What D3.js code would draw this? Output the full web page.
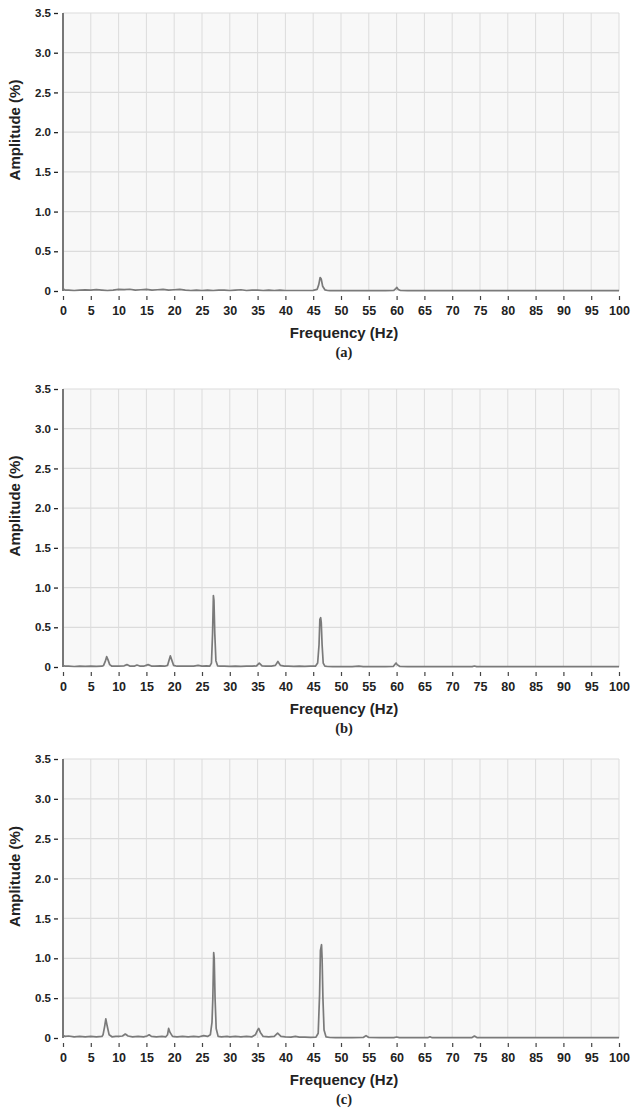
<!DOCTYPE html>
<html>
<head>
<meta charset="utf-8">
<script src="https://cdn.jsdelivr.net/npm/d3@7"></script>
<style>
  body { margin: 0; background: #fff; }
  svg { display: block; }
</style>
</head>
<body>
<svg id="chart" width="631" height="1113"></svg>
<script>
// ---------- DATA ----------
const yTicks = [0, 0.5, 1.0, 1.5, 2.0, 2.5, 3.0, 3.5];
const yTickLabels = ["0", "0.5", "1.0", "1.5", "2.0", "2.5", "3.0", "3.5"];
const xTicks = [0,5,10,15,20,25,30,35,40,45,50,55,60,65,70,75,80,85,90,95,100];
const panelLabels = ["(a)", "(b)", "(c)"];
const xTitle = "Frequency (Hz)";
const yTitle = "Amplitude (%)";

// Panel (a)
const freqA = [0,0.4,1,2,3,4,5,6,7,8,9,10,11,12,13,14,15,16,17,18,19,20,21,22,23,24,25,26,27,28,29,30,31,32,33,34,35,36,37,38,39,40,41,42,43,44,45,45.7,46.0,46.25,46.45,46.7,47.1,47.6,48,50,52,54,56,58,59.5,59.85,60.05,60.3,60.7,62,64,66,70,74,75,80,85,90,95,100];
const ampA  = [0.03,0.01,0.012,0.006,0.01,0.015,0.01,0.018,0.012,0.006,0.012,0.02,0.018,0.022,0.012,0.016,0.02,0.01,0.016,0.02,0.01,0.016,0.02,0.012,0.006,0.01,0.006,0.012,0.006,0.012,0.01,0.006,0.012,0.016,0.006,0.01,0.012,0.006,0.01,0.006,0.01,0.006,0.006,0.006,0.006,0.006,0.008,0.02,0.08,0.17,0.15,0.06,0.015,0.006,0.004,0.004,0.004,0.004,0.004,0.004,0.008,0.03,0.045,0.02,0.006,0.004,0.004,0.004,0.004,0.006,0.004,0.004,0.004,0.004,0.004,0.004];

// Panel (b)
const freqB = [0,0.4,1,2,3,4,5,6,7,7.3,7.6,7.85,8.1,8.4,8.8,9.5,10,11,11.5,12,12.8,13.3,13.8,14.5,15.3,15.9,16.5,17.5,18.3,18.8,19.1,19.3,19.55,19.9,20.5,21.5,22.5,23.5,24.3,25,25.8,26.4,26.7,26.9,27.05,27.15,27.3,27.5,27.8,28.3,29,30,31,32,33,34,34.8,35.3,35.8,36.5,37.5,38.2,38.65,39.1,39.8,40.5,41.5,42.5,43.5,44.5,45.4,45.8,46.05,46.2,46.35,46.45,46.6,46.8,47.1,47.6,48.5,50,52,53.2,54,56,58,59.4,59.9,60.1,60.6,62,66,70,73.6,74,74.4,80,85,90,95,100];
const ampB  = [0.02,0.01,0.01,0.006,0.01,0.008,0.012,0.008,0.01,0.02,0.07,0.13,0.09,0.03,0.01,0.012,0.01,0.015,0.03,0.012,0.01,0.025,0.012,0.01,0.03,0.012,0.01,0.015,0.01,0.02,0.09,0.14,0.09,0.02,0.01,0.012,0.01,0.012,0.02,0.01,0.015,0.01,0.05,0.42,0.9,0.84,0.42,0.08,0.015,0.01,0.012,0.008,0.01,0.008,0.01,0.01,0.015,0.05,0.015,0.01,0.012,0.02,0.07,0.02,0.01,0.012,0.008,0.01,0.008,0.01,0.01,0.05,0.28,0.6,0.62,0.56,0.28,0.05,0.01,0.006,0.004,0.004,0.004,0.01,0.004,0.004,0.004,0.006,0.05,0.03,0.006,0.004,0.004,0.004,0.004,0.012,0.004,0.004,0.004,0.004,0.004,0.004];

// Panel (c)
const freqC = [0,0.4,1,2,3,4,5,6,7,7.2,7.5,7.7,7.95,8.3,8.8,9.5,10,10.7,11.2,11.7,12.5,13.5,14.5,15.1,15.5,15.9,16.8,17.8,18.5,18.8,19.0,19.25,19.7,20.5,21.5,22.5,23.5,24.5,25.3,26,26.5,26.8,26.95,27.1,27.2,27.35,27.55,27.9,28.5,29.5,30,31,32,33,34,34.6,35.0,35.2,35.5,36,37,38,38.6,39.2,40,41,41.8,42.5,43.5,44.5,45.5,45.9,46.15,46.3,46.5,46.6,46.75,46.95,47.3,48,49,50,52,54,54.5,55,57,59.5,60,60.5,63,65.6,66,66.4,70,73.5,74,74.5,77,80,85,90,95,100];
const ampC  = [0.03,0.02,0.025,0.015,0.02,0.015,0.02,0.015,0.02,0.04,0.15,0.24,0.15,0.04,0.015,0.02,0.02,0.025,0.05,0.025,0.015,0.02,0.015,0.025,0.04,0.02,0.015,0.02,0.015,0.04,0.12,0.07,0.02,0.015,0.02,0.015,0.02,0.015,0.03,0.02,0.04,0.2,0.5,1.07,1.0,0.5,0.12,0.02,0.015,0.02,0.015,0.02,0.015,0.02,0.015,0.04,0.1,0.12,0.07,0.02,0.015,0.02,0.06,0.02,0.015,0.012,0.02,0.01,0.012,0.008,0.01,0.06,0.55,1.1,1.17,1.0,0.5,0.1,0.015,0.006,0.004,0.004,0.004,0.006,0.03,0.006,0.004,0.004,0.012,0.004,0.004,0.004,0.015,0.004,0.004,0.004,0.025,0.004,0.004,0.004,0.004,0.004,0.004,0.004];

const seriesList = [
  { freq: freqA, amp: ampA },
  { freq: freqB, amp: ampB },
  { freq: freqC, amp: ampC }
];

// ---------- LAYOUT ----------
const panels = [
  { top: 13,  bottom: 291 },
  { top: 389, bottom: 667 },
  { top: 759, bottom: 1038 }
];
const left = 63, right = 619;

const svg = d3.select("#chart");
const x = d3.scaleLinear().domain([0, 100]).range([left, right]);

panels.forEach((p, i) => {
  const y = d3.scaleLinear().domain([0, 3.5]).range([p.bottom, p.top]);
  const g = svg.append("g");

  g.append("rect")
    .attr("x", left).attr("y", p.top)
    .attr("width", right - left).attr("height", p.bottom - p.top)
    .attr("fill", "#f8f8f8");

  g.selectAll(".vg").data(xTicks.slice(1)).enter().append("line")
    .attr("x1", d => x(d)).attr("x2", d => x(d))
    .attr("y1", p.top).attr("y2", p.bottom)
    .attr("stroke", "#dcdcdc").attr("stroke-width", 1);
  g.selectAll(".hg").data(yTicks.slice(1)).enter().append("line")
    .attr("x1", left).attr("x2", right)
    .attr("y1", d => y(d)).attr("y2", d => y(d))
    .attr("stroke", "#dcdcdc").attr("stroke-width", 1.2);

  const yAxis = d3.axisLeft(y).tickValues(yTicks)
    .tickFormat((d, k) => yTickLabels[k]).tickSize(4).tickPadding(3);
  const ya = g.append("g").attr("transform", `translate(${left - 5},0)`).call(yAxis);
  ya.select(".domain").remove();
  ya.selectAll(".tick line").attr("stroke", "#222").attr("stroke-width", 1.3);
  ya.selectAll(".tick text")
    .attr("font-family", "Liberation Sans, Arial, sans-serif")
    .attr("font-weight", "bold").attr("font-size", 11.5).attr("fill", "#222");

  const xAxis = d3.axisBottom(x).tickValues(xTicks)
    .tickFormat(d3.format("d")).tickSize(4).tickPadding(6);
  const xa = g.append("g").attr("transform", `translate(0,${p.bottom + 5})`).call(xAxis);
  xa.select(".domain").remove();
  xa.selectAll(".tick line").attr("stroke", "#444").attr("stroke-width", 1.2);
  xa.selectAll(".tick text")
    .attr("font-family", "Liberation Sans, Arial, sans-serif")
    .attr("font-weight", "bold").attr("font-size", 12.5).attr("fill", "#222");

  const s = seriesList[i];
  const pts = s.freq.map((f, k) => [f, s.amp[k]]);
  const line = d3.line().x(d => x(d[0])).y(d => y(d[1]));
  g.append("path").datum(pts)
    .attr("d", line)
    .attr("fill", "none")
    .attr("stroke", "#7a7a7a")
    .attr("stroke-width", 1.7)
    .attr("stroke-linejoin", "round");

  g.append("line")
    .attr("x1", left).attr("x2", left)
    .attr("y1", p.top).attr("y2", p.bottom)
    .attr("stroke", "#777").attr("stroke-width", 2);

  g.append("text")
    .attr("x", (left + right) / 2 + 3).attr("y", p.bottom + 47)
    .attr("text-anchor", "middle")
    .attr("font-family", "Liberation Sans, Arial, sans-serif")
    .attr("font-weight", "bold").attr("font-size", 15).attr("fill", "#222")
    .text(xTitle);

  const cy = (p.top + p.bottom) / 2 - 22;
  g.append("text")
    .attr("transform", `translate(20,${cy}) rotate(-90)`)
    .attr("text-anchor", "middle")
    .attr("font-family", "Liberation Sans, Arial, sans-serif")
    .attr("font-weight", "bold").attr("font-size", 15).attr("fill", "#222")
    .text(yTitle);

  g.append("text")
    .attr("x", (left + right) / 2 + 3).attr("y", p.bottom + 66)
    .attr("text-anchor", "middle")
    .attr("font-family", "Liberation Serif, Times New Roman, serif")
    .attr("font-weight", "bold").attr("font-size", 14.5).attr("fill", "#222")
    .text(panelLabels[i]);
});
</script>
</body>
</html>
